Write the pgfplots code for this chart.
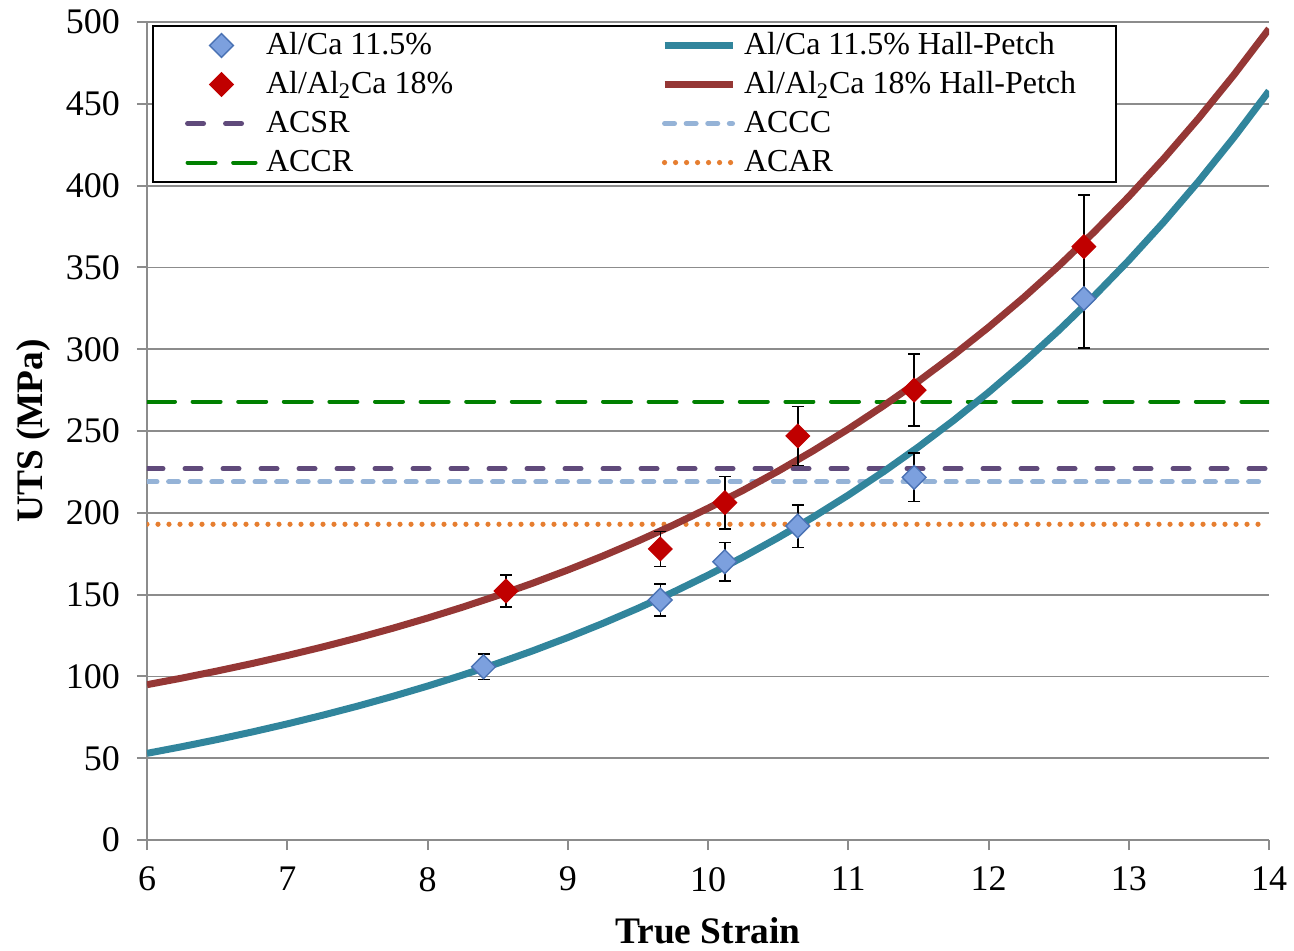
\documentclass[border=0pt]{standalone}
\usepackage{fontspec}
\setmainfont{Liberation Serif}
\usepackage{pgfplots}
\pgfplotsset{compat=1.18}

\definecolor{gridgray}{RGB}{140,140,140}
\definecolor{hpteal}{RGB}{49,133,156}
\definecolor{hpred}{RGB}{149,55,53}
\definecolor{ptblue}{RGB}{124,160,222}
\definecolor{ptblueedge}{RGB}{74,114,180}
\definecolor{ptred}{RGB}{192,0,0}
\definecolor{acsr}{RGB}{96,74,123}
\definecolor{accc}{RGB}{149,179,215}
\definecolor{accr}{RGB}{0,128,0}
\definecolor{acar}{RGB}{230,126,48}

\pgfplotsset{
  bluepts/.style={only marks, mark=square*, mark size=4.2pt,
    mark options={rotate=45, fill=ptblue, draw=ptblueedge, line width=0.7pt}},
  redpts/.style={only marks, mark=square*, mark size=4.2pt,
    mark options={rotate=45, fill=ptred, draw=ptred, line width=0.5pt}},
  errs/.style={error bars/.cd, y dir=both, y explicit,
    error bar style={black, line width=0.8pt},
    error mark options={rotate=90, black, mark size=3pt, line width=0.8pt},
    /pgfplots/.cd},
  tealfit/.style={hpteal, line width=3.5pt, no marks},
  redfit/.style={hpred, line width=3.5pt, no marks},
  acsrline/.style={acsr, line width=2.5pt, line cap=round, dash pattern=on 8pt off 11pt, no marks},
  acccline/.style={accc, line width=2.5pt, line cap=round, dash pattern=on 5pt off 5.8pt, no marks},
  accrline/.style={accr, line width=2pt, line cap=round, dash pattern=on 14pt off 8.8pt, no marks},
  acarline/.style={acar, line width=2.6pt, line cap=round, dash pattern=on 0pt off 5.5pt, no marks},
}

\pgfplotstableread{
x     y     e
8.40  105.9 7.8
9.66  146.7 9.9
10.12 170.1 11.8
10.64 191.9 13.0
11.47 221.7 14.8
12.68 330.9 30.0
}\alca

\pgfplotstableread{
x     y     e
8.56  152.2 9.9
9.66  177.9 10.6
10.12 206.2 16.0
10.64 247.0 18.0
11.47 275.0 22.0
12.68 362.7 31.7
}\alalca

\begin{document}
\begin{tikzpicture}
\begin{axis}[
  scale only axis,
  width=561pt, height=409pt,
  xmin=6, xmax=14, ymin=0, ymax=500,
  xtick={6,7,...,14}, ytick={0,50,...,500},
  axis x line*=bottom, axis y line*=left,
  axis line style={gridgray, line width=1pt},
  tick align=outside, major tick length=5pt,
  tick style={gridgray, line width=1pt},
  ymajorgrids, grid style={gridgray, line width=0.9pt},
  font=\fontsize{18}{21}\selectfont,
  tick label style={font=\fontsize{18}{21}\selectfont},
  /pgf/number format/assume math mode=true,
  yticklabel style={xshift=-5pt},
  xticklabel style={yshift=-5pt},
  xlabel={\textbf{True Strain}},
  ylabel={\textbf{UTS (MPa)}},
  label style={font=\fontsize{18.7}{22}\selectfont},
  xlabel style={at={(axis description cs:0.5,-0.1115)}, anchor=center},
  ylabel style={at={(axis description cs:-0.1016,0.5)}, anchor=center},
  legend columns=2,
  legend image code/.code={\draw[mark repeat=2,mark phase=2] plot coordinates {(0pt,0pt) (17pt,0pt) (34pt,0pt)};},
  legend style={at={(0.0045,0.9963)}, anchor=north west, draw=black, line width=1pt,
    inner xsep=16pt, inner ysep=0pt, row sep=0pt,
    font=\fontsize{16}{19}\selectfont,
    nodes={inner xsep=4pt, inner ysep=0pt, text height=14pt, text depth=5.5pt},
    cells={anchor=west}},
]

% legend entries, in the order of the reference
\addlegendimage{bluepts}
\addlegendentry{\makebox[193.5pt][l]{Al/Ca 11.5\%}}
\addlegendimage{tealfit}
\addlegendentry{Al/Ca 11.5\% Hall-Petch}
\addlegendimage{redpts}
\addlegendentry{\makebox[193.5pt][l]{Al/Al\textsubscript{2}Ca 18\%}}
\addlegendimage{redfit}
\addlegendentry{Al/Al\textsubscript{2}Ca 18\% Hall-Petch}
\addlegendimage{acsrline}
\addlegendentry{\makebox[193.5pt][l]{ACSR}}
\addlegendimage{acccline}
\addlegendentry{ACCC}
\addlegendimage{accrline}
\addlegendentry{\makebox[193.5pt][l]{ACCR}}
\addlegendimage{acarline}
\addlegendentry{ACAR}

% conductor reference levels
\addplot[acarline, forget plot] coordinates {(6,193) (14,193)};
\addplot[acccline, forget plot] coordinates {(6,219) (14,219)};
\addplot[acsrline, forget plot] coordinates {(6,227) (14,227)};
\addplot[accrline, forget plot] coordinates {(6,268) (14,268)};

% Hall-Petch fits
\addplot[tealfit, forget plot] coordinates {
(6.00,52.97) (6.25,57.06) (6.50,61.41) (6.75,66.04) (7.00,70.97) (7.25,76.22)
(7.50,81.80) (7.75,87.75) (8.00,94.08) (8.25,100.82) (8.50,107.99) (8.75,115.63)
(9.00,123.76) (9.25,132.41) (9.50,141.62) (9.75,151.42) (10.00,161.86) (10.25,172.97)
(10.50,184.80) (10.75,197.39) (11.00,210.79) (11.25,225.05) (11.50,240.24) (11.75,256.40)
(12.00,273.61) (12.25,291.93) (12.50,311.43) (12.75,332.18) (13.00,354.27) (13.25,377.79)
(13.50,402.83) (13.75,429.48) (14.00,457.85)
};
\addplot[redfit, forget plot] coordinates {
(6.00,94.94) (6.25,98.99) (6.50,103.30) (6.75,107.88) (7.00,112.76) (7.25,117.96)
(7.50,123.49) (7.75,129.38) (8.00,135.65) (8.25,142.32) (8.50,149.42) (8.75,156.98)
(9.00,165.03) (9.25,173.59) (9.50,182.71) (9.75,192.42) (10.00,202.76) (10.25,213.75)
(10.50,225.46) (10.75,237.93) (11.00,251.20) (11.25,265.32) (11.50,280.36) (11.75,296.36)
(12.00,313.40) (12.25,331.53) (12.50,350.84) (12.75,371.39) (13.00,393.26) (13.25,416.55)
(13.50,441.34) (13.75,467.73) (14.00,495.82)
};

% measured points
\addplot[bluepts, forget plot, errs] table[x=x, y=y, y error=e] {\alca};
\addplot[redpts, forget plot, errs] table[x=x, y=y, y error=e] {\alalca};

\end{axis}
\pgfresetboundingbox
\useasboundingbox (-73.5pt,-55pt) rectangle (573.5pt,420pt);
\end{tikzpicture}
\end{document}
